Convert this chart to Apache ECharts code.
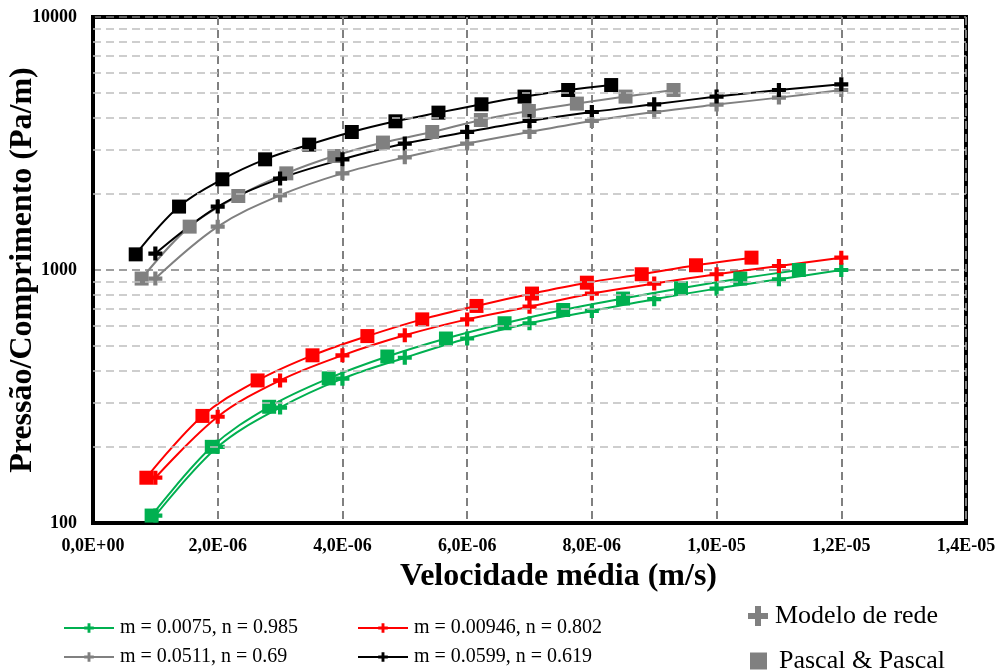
<!DOCTYPE html>
<html>
<head>
<meta charset="utf-8">
<script src="https://cdn.jsdelivr.net/npm/echarts@6/dist/echarts.min.js"></script>
<style>html,body{margin:0;padding:0;background:#fff;}#chart{width:998px;height:671px;}</style>
</head>
<body>
<div id="chart"></div>
<script>
// ---- data ----
const seriesNames = ['m = 0.0075, n = 0.985', 'm = 0.00946, n = 0.802', 'm = 0.0511, n = 0.69', 'm = 0.0599, n = 0.619'];
const seriesColors = ['#00B050', '#FF0000', '#808080', '#000000'];

const xModelo = [1e-6, 2e-6, 3e-6, 4e-6, 5e-6, 6e-6, 7e-6, 8e-6, 9e-6, 10e-6, 11e-6, 12e-6];
const yModeloGreen = [107, 200, 286, 372, 450, 536, 616, 689, 767, 844, 919, 1000];
const yModeloRed   = [151, 263, 366, 460, 552, 638, 716, 807, 884, 962, 1037, 1119];
const yModeloGray  = [925, 1484, 1974, 2410, 2789, 3160, 3512, 3882, 4212, 4506, 4801, 5146];
const yModeloBlack = [1161, 1781, 2298, 2738, 3160, 3512, 3882, 4212, 4518, 4846, 5146, 5420];

const xPascalGreen = [0.94e-6, 1.905e-6, 2.825e-6, 3.78e-6, 4.72e-6, 5.66e-6, 6.6e-6, 7.54e-6, 8.5e-6, 9.43e-6, 10.38e-6, 11.32e-6];
const yPascalGreen = [107, 200, 288, 373, 455, 536, 616, 695, 771, 847, 925, 1000];
const xPascalRed   = [0.856e-6, 1.755e-6, 2.64e-6, 3.52e-6, 4.40e-6, 5.28e-6, 6.15e-6, 7.04e-6, 7.92e-6, 8.80e-6, 9.67e-6, 10.56e-6];
const yPascalRed   = [151, 265, 366, 460, 548, 638, 721, 807, 891, 962, 1044, 1119];
const xPascalGray  = [0.78e-6, 1.55e-6, 2.33e-6, 3.1e-6, 3.87e-6, 4.65e-6, 5.44e-6, 6.22e-6, 6.99e-6, 7.76e-6, 8.54e-6, 9.31e-6];
const yPascalGray  = [925, 1484, 1961, 2410, 2822, 3189, 3512, 3917, 4251, 4547, 4846, 5146];
const xPascalBlack = [0.685e-6, 1.38e-6, 2.075e-6, 2.76e-6, 3.467e-6, 4.15e-6, 4.85e-6, 5.54e-6, 6.23e-6, 6.92e-6, 7.62e-6, 8.31e-6];
const yPascalBlack = [1153, 1781, 2283, 2738, 3131, 3512, 3870, 4188, 4518, 4846, 5146, 5383];

const minorGridValues = [200, 300, 400, 500, 600, 700, 800, 900, 2000, 3000, 4000, 5000, 6000, 7000, 8000, 9000];
const xMin = 0, xMax = 1.4e-5, xStep = 2e-6;
const yMin = 100, yMax = 10000;

// ---- helpers ----
const FONT = 'Liberation Serif';
const plusPath = 'path://M7,0H13V7H20V13H13V20H7V13H0V7H7Z';
function zip(xs, ys) { return xs.map((x, i) => [x, ys[i]]); }
function sci(v) {
  if (Math.abs(v) < 1e-12) return '0,0E+00';
  let e = Math.floor(Math.log10(Math.abs(v)) + 1e-9);
  let m = v / Math.pow(10, e);
  if (Math.round(m * 10) / 10 >= 10) { m /= 10; e += 1; }
  return m.toFixed(1).replace('.', ',') + 'E' + (e < 0 ? '-' : '+') + String(Math.abs(e)).padStart(2, '0');
}

const modeloY = [yModeloGreen, yModeloRed, yModeloGray, yModeloBlack];
const pascalX = [xPascalGreen, xPascalRed, xPascalGray, xPascalBlack];
const pascalY = [yPascalGreen, yPascalRed, yPascalGray, yPascalBlack];

const series = [];
for (let i = 0; i < 4; i++) {
  series.push({
    name: 'Pascal ' + seriesNames[i],
    type: 'line',
    data: zip(pascalX[i], pascalY[i]),
    smooth: 0.35,
    symbol: 'rect',
    symbolSize: 14,
    lineStyle: { color: seriesColors[i], width: 2 },
    itemStyle: { color: seriesColors[i] },
    z: 3
  });
  series.push({
    name: seriesNames[i],
    type: 'line',
    data: zip(xModelo, modeloY[i]),
    smooth: 0.35,
    symbol: plusPath,
    symbolSize: 14,
    lineStyle: { color: seriesColors[i], width: 2 },
    itemStyle: { color: seriesColors[i] },
    z: 3
  });
}
// minor grid lines drawn through the axis scale
series.push({
  name: 'grid', type: 'line', data: [], silent: true, z: 1,
  markLine: {
    silent: true, symbol: ['none', 'none'], label: { show: false },
    lineStyle: { color: '#BFBFBF', width: 1.5, type: [8, 5] },
    animation: false,
    data: minorGridValues.map(v => ({ yAxis: v }))
  }
});
series.push({ name: 'Modelo de rede', type: 'line', data: [], itemStyle: { color: '#808080' }, lineStyle: { color: '#808080' } });
series.push({ name: 'Pascal & Pascal', type: 'line', data: [], itemStyle: { color: '#808080' }, lineStyle: { color: '#808080' } });

function lineLegend(name, left, top) {
  return {
    data: [name], left: left, top: top, orient: 'horizontal',
    itemWidth: 50, itemHeight: 12, itemGap: 0, padding: 0, selectedMode: false,
    textStyle: { fontFamily: FONT, fontSize: 20, color: '#000', padding: [0, 0, 0, 1] }
  };
}

const option = {
  animation: false,
  backgroundColor: '#fff',
  grid: { left: 93, top: 17, right: 32, bottom: 148, show: true, borderColor: '#000', borderWidth: 4, backgroundColor: 'transparent', outerBoundsMode: 'none', containLabel: false },
  xAxis: {
    type: 'value', min: xMin, max: xMax, interval: xStep,
    name: 'Velocidade média (m/s)', nameLocation: 'middle', nameGap: 38, nameMoveOverlap: false,
    nameTextStyle: { fontFamily: FONT, fontSize: 32, fontWeight: 'bold', color: '#000', padding: [0, 0, 0, 58] },
    axisLine: { show: true, lineStyle: { color: '#000', width: 4 } },
    axisTick: { show: false },
    axisLabel: { formatter: sci, fontFamily: FONT, fontSize: 18, fontWeight: 'bold', color: '#000', margin: 14 },
    splitLine: { show: true, lineStyle: { color: '#808080', width: 2, type: [8, 5] } }
  },
  yAxis: {
    type: 'log', logBase: 10, min: yMin, max: yMax,
    name: 'Pressão/Comprimento (Pa/m)', nameLocation: 'middle', nameGap: 54, nameMoveOverlap: false,
    nameTextStyle: { fontFamily: FONT, fontSize: 32, fontWeight: 'bold', color: '#000' },
    axisLine: { show: true, lineStyle: { color: '#000', width: 4 } },
    axisTick: { show: false },
    axisLabel: { formatter: v => String(Math.round(v)), fontFamily: FONT, fontSize: 18, fontWeight: 'bold', color: '#000', margin: 16 },
    splitLine: { show: true, lineStyle: { color: '#808080', width: 1.5, type: [8, 5] } },
    minorSplitLine: { show: false }
  },
  legend: [
    lineLegend(seriesNames[0], 63, 618),
    lineLegend(seriesNames[1], 357, 618),
    lineLegend(seriesNames[2], 63, 647),
    lineLegend(seriesNames[3], 357, 647),
    {
      data: [{ name: 'Modelo de rede', icon: plusPath }], left: 748, top: 603, padding: 0, selectedMode: false,
      itemWidth: 20, itemHeight: 20,
      textStyle: { fontFamily: FONT, fontSize: 26, color: '#000', padding: [0, 0, 0, 2] }
    },
    {
      data: [{ name: 'Pascal & Pascal', icon: 'rect' }], left: 750, top: 648, padding: 0, selectedMode: false,
      itemWidth: 17, itemHeight: 17,
      textStyle: { fontFamily: FONT, fontSize: 26, color: '#000', padding: [0, 0, 0, 7] }
    }
  ],
  series: series
};

const chart = echarts.init(document.getElementById('chart'), null, { renderer: 'canvas' });
chart.setOption(option);
</script>
</body>
</html>
